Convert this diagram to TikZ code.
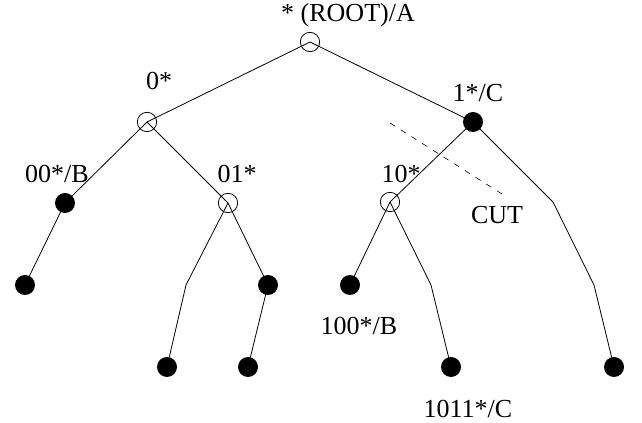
\documentclass[tikz,border=0pt]{standalone}
\usepackage{fontspec}
\setmainfont{Liberation Serif}
\usetikzlibrary{positioning}
\tikzstyle{inner} = [circle, draw=black, line width=0.6pt, minimum size=14.5pt, inner sep=0pt]
\tikzstyle{leaf} = [circle, fill=black, minimum size=15pt, inner sep=0pt]
\tikzstyle{tag} = [font=\fontsize{19.5}{23}\selectfont, inner sep=0pt, anchor=base]
\tikzstyle{edge} = [line width=0.6pt]
\tikzstyle{cut} = [line width=0.45pt, dash pattern=on 4.5pt off 5pt]

\begin{document}
\begin{tikzpicture}[x=0.75pt, y=-0.75pt]
        \useasboundingbox (0,0) rectangle (642,423);

        % trie nodes
        \node[inner] (root) at (310,42)  {};
        \node[inner] (n0)   at (147,122) {};
        \node[leaf]  (n1)   at (473,122) {};
        \node[leaf]  (n00)  at (65,203)  {};
        \node[inner] (n01)  at (228,203) {};
        \node[inner] (n10)  at (390,202) {};
        \node[leaf]  (n000) at (25,285)  {};
        \node[leaf]  (n011) at (268,285) {};
        \node[leaf]  (n100) at (350,285) {};
        \node[leaf]  (n010) at (167,367) {};
        \node[leaf]  (n0110) at (248,367) {};
        \node[leaf]  (n1011) at (451,367) {};
        \node[leaf]  (n11)  at (614,367) {};

        % labels
        \node[tag] (l root) at (348,22)  {* (ROOT)/A};
        \node[tag] (l 0)    at (159,90)  {0*};
        \node[tag] (l 1)    at (478,102) {1*/C};
        \node[tag] (l 00)   at (57,183)  {00*/B};
        \node[tag] (l 01)   at (237,183) {01*};
        \node[tag] (l 10)   at (401,183) {10*};
        \node[tag] (l cut)  at (497,224) {CUT};
        \node[tag] (l 100)  at (359,335) {100*/B};
        \node[tag] (l 1011) at (468,417) {1011*/C};

        \coordinate (cut a) at (390,123);
        \coordinate (cut b) at (502,194);

        \draw[edge] (root.center) -- (n0.center);
        \draw[edge] (root.center) -- (n1.center);
        \draw[edge] (n0.center)   -- (n00.center);
        \draw[edge] (n0.center)   -- (n01.center);
        \draw[edge] (n00.center)  -- (n000.center);
        \draw[edge] (n01.center)  -- (186,285) -- (n010.center);
        \draw[edge] (n01.center)  -- (n011.center);
        \draw[edge] (n011.center) -- (n0110.center);
        \draw[edge] (n1.center)   -- (n10.center);
        \draw[edge] (n1.center)   -- (553,202) -- (594,285) -- (n11.center);
        \draw[edge] (n10.center)  -- (n100.center);
        \draw[edge] (n10.center)  -- (431,285) -- (n1011.center);
        \draw[cut]  (cut a) -- (cut b);
    \end{tikzpicture}
\end{document}
